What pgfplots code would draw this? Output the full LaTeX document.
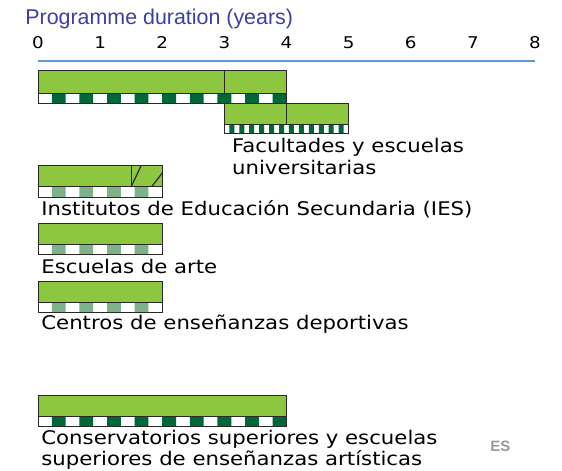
\documentclass[border=0pt]{standalone}
\usepackage{pgfplots}
\pgfplotsset{compat=1.18}
\usepackage{fontspec}
\setmainfont{DejaVu Sans}
\newfontfamily\labfont[FakeStretch=1.13]{DejaVu Sans}
\newfontfamily\titlefont{Liberation Sans}

\definecolor{barlight}{RGB}{141,198,63}
\definecolor{stripedark}{RGB}{0,104,56}
\definecolor{stripepale}{RGB}{127,178,138}
\definecolor{titleblue}{RGB}{62,62,165}
\definecolor{axisblue}{RGB}{91,155,213}
\definecolor{edge}{RGB}{40,40,40}

\pgfplotsset{
  greenbox/.style={fill=barlight, draw=edge, line width=0.5pt},
  stripebox/.style={fill=none, draw=edge, line width=0.5pt},
  whitebox/.style={fill=white, draw=none},
  comb/.style={const plot mark left, fill=#1, draw=none},
}

\begin{document}
\begin{tikzpicture}
\begin{axis}[
  x=31.06pt, y=0.5pt,
  xmin=0, xmax=8, ymin=0, ymax=409,
  axis x line=top, hide y axis,
  axis line style={-, axisblue, line width=0.75pt},
  xtick={0,...,8},
  major tick length=0pt,
  xticklabel style={anchor=base, yshift=6.3pt, font=\labfont\fontsize{8.1}{9}\selectfont},
  /pgf/number format/assume math mode=true,
  clip=false,
]

% picture frame (reference proportions)
\path (axis cs:-0.6117,0) rectangle (axis cs:8.435,470);

% --- Facultades y escuelas universitarias: 0-4 years (3 + 1)
\addplot[whitebox] coordinates {(0,366.5) (4,366.5) (4,376) (0,376)} --cycle;
\addplot[comb=stripedark] coordinates {
  (0,366.5) (0.222,376) (0.444,366.5) (0.667,376) (0.889,366.5)
  (1.111,376) (1.333,366.5) (1.556,376) (1.778,366.5) (2,376)
  (2.222,366.5) (2.444,376) (2.667,366.5) (2.889,376) (3.111,366.5)
  (3.333,376) (3.556,366.5) (3.778,376) (4,366.5)
};
\addplot[stripebox] coordinates {(0,366.5) (4,366.5) (4,376) (0,376)} --cycle;
\addplot[greenbox] coordinates {(0,376) (3,376) (3,399) (0,399)} --cycle;
\addplot[greenbox] coordinates {(3,376) (4,376) (4,399) (3,399)} --cycle;

% --- second cycle: 3-5 years
\addplot[whitebox] coordinates {(3,336.5) (5,336.5) (5,345.7) (3,345.7)} --cycle;
\addplot[comb=stripedark] coordinates {
  (3,336.5) (3.08,345.7) (3.16,336.5) (3.24,345.7) (3.32,336.5)
  (3.40,345.7) (3.48,336.5) (3.56,345.7) (3.64,336.5) (3.72,345.7)
  (3.80,336.5) (3.88,345.7) (3.96,336.5) (4.04,345.7) (4.12,336.5)
  (4.20,345.7) (4.28,336.5) (4.36,345.7) (4.44,336.5) (4.52,345.7)
  (4.60,336.5) (4.68,345.7) (4.76,336.5) (4.84,345.7) (4.92,336.5)
  (5,336.5)
};
\addplot[stripebox] coordinates {(3,336.5) (5,336.5) (5,345.7) (3,345.7)} --cycle;
\addplot[greenbox] coordinates {(3,345.7) (4,345.7) (4,366.5) (3,366.5)} --cycle;
\addplot[greenbox] coordinates {(4,345.7) (5,345.7) (5,366.5) (4,366.5)} --cycle;

% --- Institutos de Educacion Secundaria: 0-2 years (1.5 + hatched 0.5)
\addplot[whitebox] coordinates {(0,272.7) (2,272.7) (2,283.3) (0,283.3)} --cycle;
\addplot[comb=stripepale] coordinates {
  (0,272.7) (0.222,283.3) (0.444,272.7) (0.667,283.3) (0.889,272.7)
  (1.111,283.3) (1.333,272.7) (1.556,283.3) (1.778,272.7) (2,272.7)
};
\addplot[stripebox] coordinates {(0,272.7) (2,272.7) (2,283.3) (0,283.3)} --cycle;
\addplot[greenbox] coordinates {(0,283.3) (1.5,283.3) (1.5,304.3) (0,304.3)} --cycle;
\addplot[greenbox] coordinates {(1.5,283.3) (2,283.3) (2,304.3) (1.5,304.3)} --cycle;
\addplot[edge, line width=0.6pt] coordinates {(1.5,283.3) (1.66,304.3)};
\addplot[edge, line width=0.6pt] coordinates {(1.83,283.3) (2,297)};

% --- Escuelas de arte: 0-2 years
\addplot[whitebox] coordinates {(0,215.7) (2,215.7) (2,225.7) (0,225.7)} --cycle;
\addplot[comb=stripepale] coordinates {
  (0,215.7) (0.222,225.7) (0.444,215.7) (0.667,225.7) (0.889,215.7)
  (1.111,225.7) (1.333,215.7) (1.556,225.7) (1.778,215.7) (2,215.7)
};
\addplot[stripebox] coordinates {(0,215.7) (2,215.7) (2,225.7) (0,225.7)} --cycle;
\addplot[greenbox] coordinates {(0,225.7) (2,225.7) (2,246.7) (0,246.7)} --cycle;

% --- Centros de ensenanzas deportivas: 0-2 years
\addplot[whitebox] coordinates {(0,157.3) (2,157.3) (2,167.7) (0,167.7)} --cycle;
\addplot[comb=stripepale] coordinates {
  (0,157.3) (0.222,167.7) (0.444,157.3) (0.667,167.7) (0.889,157.3)
  (1.111,167.7) (1.333,157.3) (1.556,167.7) (1.778,157.3) (2,157.3)
};
\addplot[stripebox] coordinates {(0,157.3) (2,157.3) (2,167.7) (0,167.7)} --cycle;
\addplot[greenbox] coordinates {(0,167.7) (2,167.7) (2,188.3) (0,188.3)} --cycle;

% --- Conservatorios superiores: 0-4 years
\addplot[whitebox] coordinates {(0,43.3) (4,43.3) (4,54) (0,54)} --cycle;
\addplot[comb=stripedark] coordinates {
  (0,43.3) (0.222,54) (0.444,43.3) (0.667,54) (0.889,43.3)
  (1.111,54) (1.333,43.3) (1.556,54) (1.778,43.3) (2,54)
  (2.222,43.3) (2.444,54) (2.667,43.3) (2.889,54) (3.111,43.3)
  (3.333,54) (3.556,43.3) (3.778,54) (4,43.3)
};
\addplot[stripebox] coordinates {(0,43.3) (4,43.3) (4,54) (0,54)} --cycle;
\addplot[greenbox] coordinates {(0,54) (4,54) (4,75) (0,75)} --cycle;

% labels
\begin{scope}[every node/.style={anchor=base west, inner sep=0pt,
    font=\labfont\fontsize{9.4}{11}\selectfont}]
\node at (axis cs:3.118,318) {Facultades y escuelas};
\node at (axis cs:3.118,295.5) {universitarias};
\node at (axis cs:0.048,254.7) {Institutos de Educación Secundaria (IES)};
\node at (axis cs:0.048,196.5) {Escuelas de arte};
\node at (axis cs:0.048,140.5) {Centros de enseñanzas deportivas};
\node at (axis cs:0.048,25.5) {Conservatorios superiores y escuelas};
\node at (axis cs:0.048,4.5) {superiores de enseñanzas artísticas};
\end{scope}

\node[anchor=base west, inner sep=0pt, text=titleblue,
  font=\titlefont\fontsize{10.7}{12}\selectfont]
  at (axis cs:-0.209,445.5) {Programme duration (years)};
\node[anchor=base west, inner sep=0pt, text=black!40,
  font=\titlefont\bfseries\fontsize{7.5}{9}\selectfont]
  at (axis cs:7.276,18.3) {ES};

\end{axis}
\end{tikzpicture}
\end{document}
